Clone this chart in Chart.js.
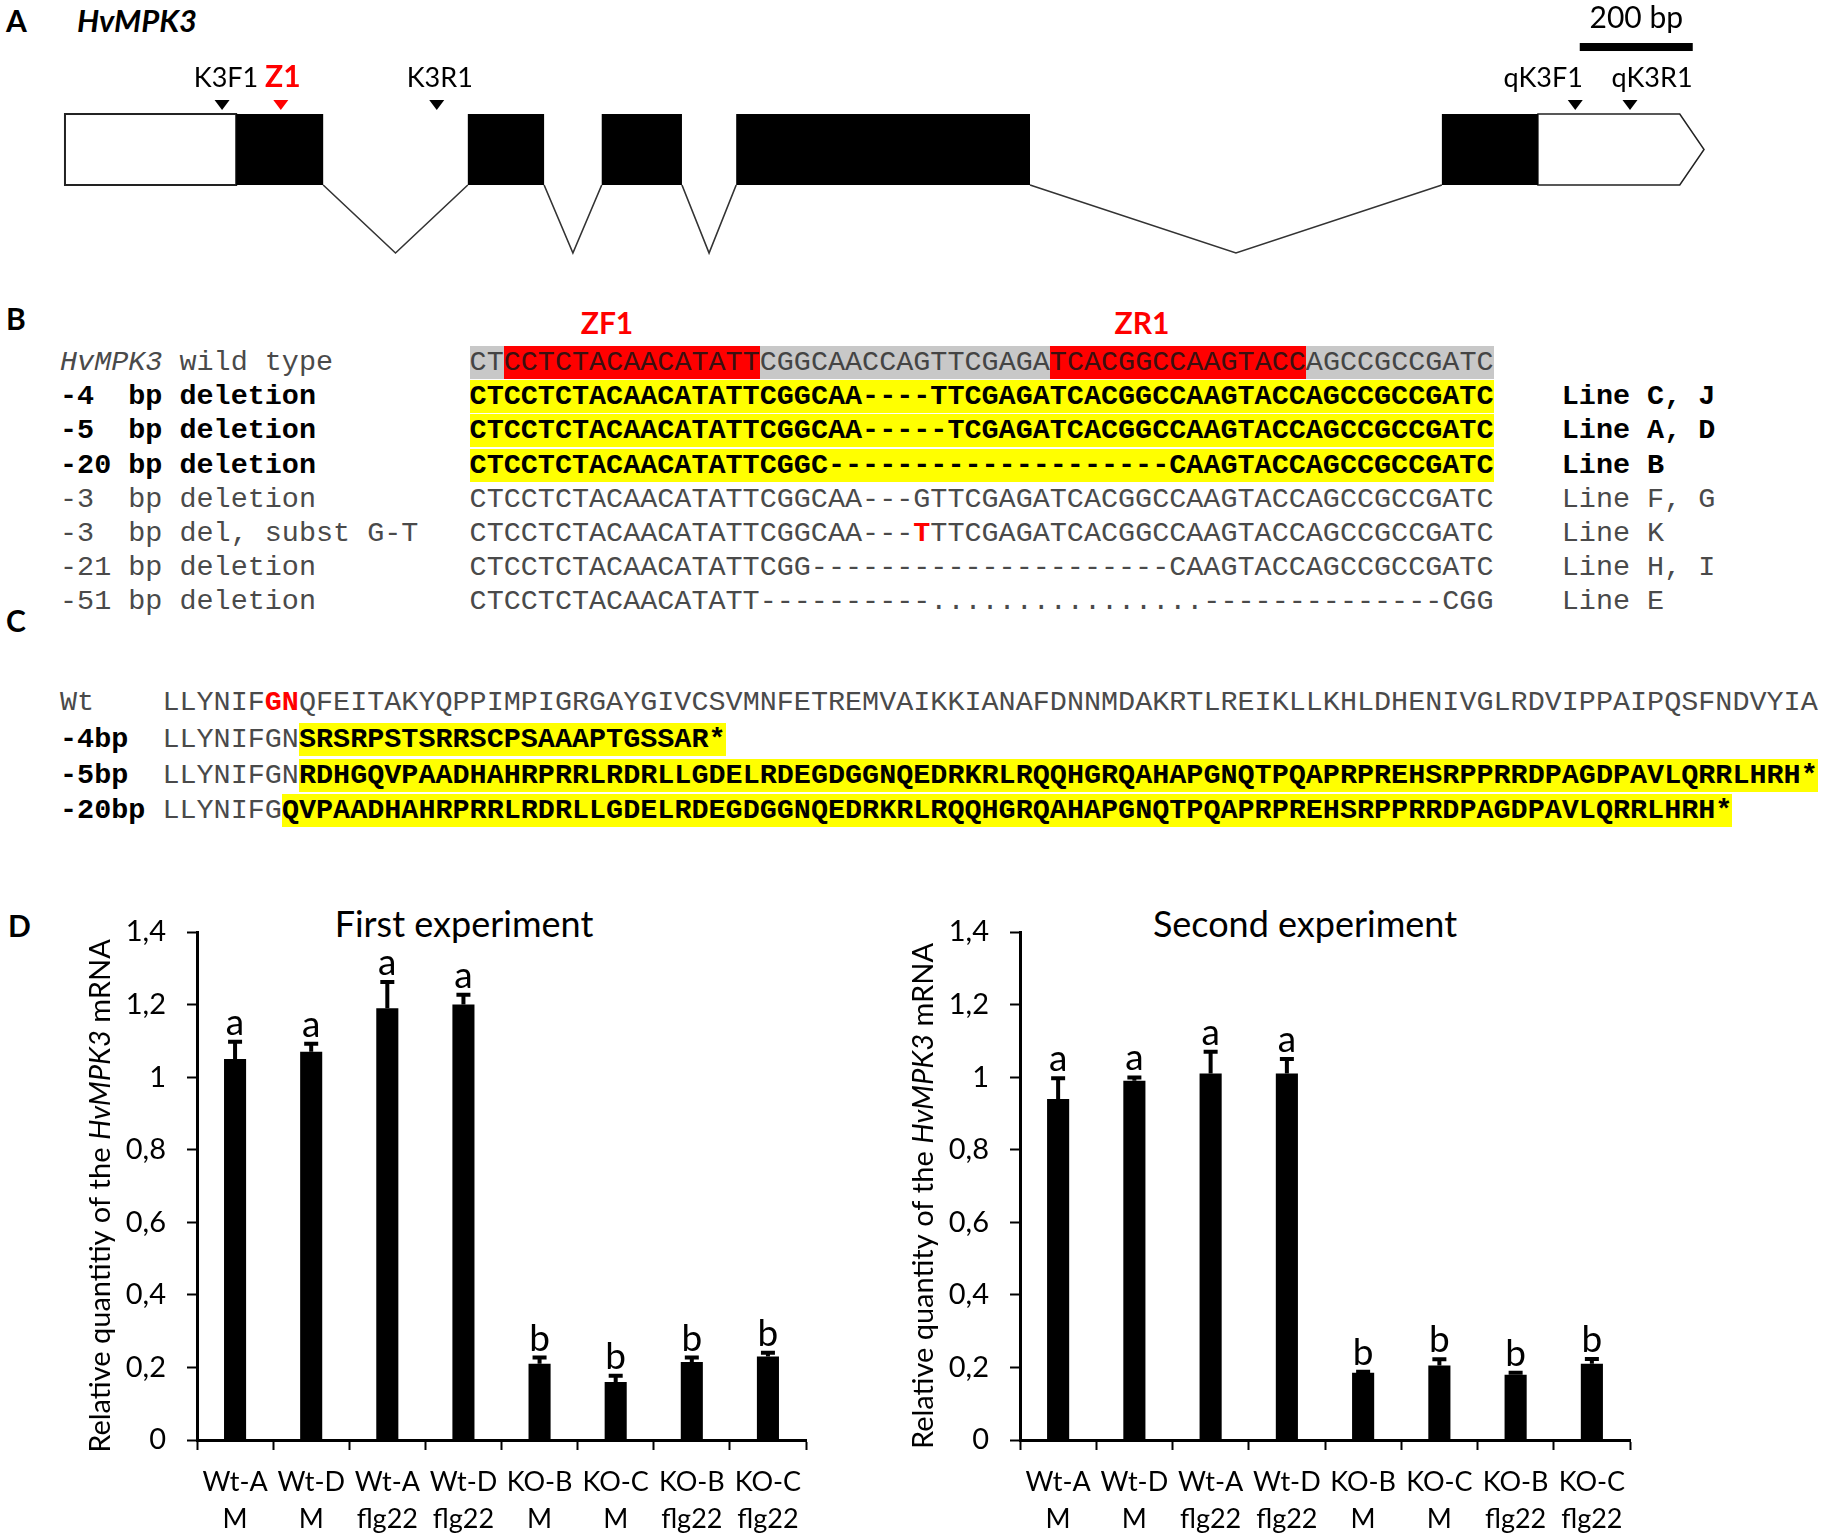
<!DOCTYPE html>
<html>
<head>
<meta charset="utf-8">
<script src="https://cdn.jsdelivr.net/npm/chart.js@4.4.0/dist/chart.umd.min.js"></script>
<style>
  html, body { margin: 0; padding: 0; background: #fff; }
  body { width: 1821px; height: 1539px; position: relative; overflow: hidden; font-family: Lato, sans-serif; }
  .t { position: absolute; white-space: pre; line-height: 1; }
  .letter { font-weight: bold; font-size: 30px; }
  .mono { position: absolute; left: 60px; white-space: pre; font-family: "Liberation Mono", monospace;
          font-size: 28.45px; line-height: 34px; height: 34px; color: #4a4a4a; }
  .mono b { color: #000; }
  .bg { display: inline-block; line-height: 33px; vertical-align: top; }
  .grey { background: #c8c8c8; color: #444; }
  .red { background: #ff0000; color: #3a1010; }
  .yel { background: #ffff00; color: #000; font-weight: bold; }
  .rt { color: #ff0000; font-weight: bold; }
  canvas { position: absolute; }
</style>
</head>
<body>

<div class="t letter" style="left:6px; top:5px;">A</div>
<div class="t" style="left:77px; top:5px; font-size:31px; font-weight:bold; font-style:italic;">HvMPK3</div>
<canvas id="gene" width="1821" height="290" style="left:0; top:0;"></canvas>

<div class="t letter" style="left:6px; top:303px;">B</div>
<div class="t" style="left:607px; top:307px; transform:translateX(-50%); color:#f00; font-weight:bold; font-size:30px;">ZF1</div>
<div class="t" style="left:1142px; top:307px; transform:translateX(-50%); color:#f00; font-weight:bold; font-size:30px;">ZR1</div>
<div id="panelB"></div>

<div class="t letter" style="left:6px; top:605px;">C</div>
<div id="panelC"></div>

<div class="t letter" style="left:8px; top:910px;">D</div>
<div class="t" style="left:464px; top:905px; transform:translateX(-50%); font-size:36px;">First experiment</div>
<div class="t" style="left:1305px; top:905px; transform:translateX(-50%); font-size:36px;">Second experiment</div>
<canvas id="first" width="830" height="659" style="left:0; top:880px;"></canvas>
<canvas id="second" width="780" height="659" style="left:880px; top:880px;"></canvas>

<script>
// ---- panel A: gene model (bp) ----
const utr5 = [0, 303];
const exonStarts = [303, 713, 950, 1188, 2437];
const exonEnds = [457, 848, 1092, 1708, 2607];
const utr3 = [2607, 2858, 2901]; // box start, box end, arrow tip
const primerNames = ['K3F1', 'Z1', 'K3R1', 'qK3F1', 'qK3R1'];
const primerSites = [278, 382, 658, 2673, 2770];
const primerLabelShift = [4, 2, 3, -32, 22];
const scaleBar = [2681, 2881];

// ---- panel B: alignment ----
const seqLabels = ['wild type', '-4  bp deletion', '-5  bp deletion', '-20 bp deletion',
  '-3  bp deletion', '-3  bp del, subst G-T', '-21 bp deletion', '-51 bp deletion'];
const seqRows = [
  'CTCCTCTACAACATATTCGGCAACCAGTTCGAGATCACGGCCAAGTACCAGCCGCCGATC',
  'CTCCTCTACAACATATTCGGCAA----TTCGAGATCACGGCCAAGTACCAGCCGCCGATC',
  'CTCCTCTACAACATATTCGGCAA-----TCGAGATCACGGCCAAGTACCAGCCGCCGATC',
  'CTCCTCTACAACATATTCGGC--------------------CAAGTACCAGCCGCCGATC',
  'CTCCTCTACAACATATTCGGCAA---GTTCGAGATCACGGCCAAGTACCAGCCGCCGATC',
  'CTCCTCTACAACATATTCGGCAA---TTTCGAGATCACGGCCAAGTACCAGCCGCCGATC',
  'CTCCTCTACAACATATTCGG---------------------CAAGTACCAGCCGCCGATC',
  'CTCCTCTACAACATATT----------................--------------CGG'
];
const seqLines = ['', 'Line C, J', 'Line A, D', 'Line B', 'Line F, G', 'Line K', 'Line H, I', 'Line E'];
const boldRows = [1, 2, 3];
const zfnSites = [[2, 17], [34, 49]];
const substPos = 26;

// ---- panel C: protein ----
const protLabels = ['Wt', '-4bp', '-5bp', '-20bp'];
const protKept = ['LLYNIFGN', 'LLYNIFGN', 'LLYNIFGN', 'LLYNIFG'];
const protRest = [
  'QFEITAKYQPPIMPIGRGAYGIVCSVMNFETREMVAIKKIANAFDNNMDAKRTLREIKLLKHLDHENIVGLRDVIPPAIPQSFNDVYIA',
  'SRSRPSTSRRSCPSAAAPTGSSAR*',
  'RDHGQVPAADHAHRPRRLRDRLLGDELRDEGDGGNQEDRKRLRQQHGRQAHAPGNQTPQAPRPREHSRPPRRDPAGDPAVLQRRLHRH*',
  'QVPAADHAHRPRRLRDRLLGDELRDEGDGGNQEDRKRLRQQHGRQAHAPGNQTPQAPRPREHSRPPRRDPAGDPAVLQRRLHRH*'
];

// ---- panel D: qPCR ----
const categories = [['Wt-A', 'M'], ['Wt-D', 'M'], ['Wt-A', 'flg22'], ['Wt-D', 'flg22'],
  ['KO-B', 'M'], ['KO-C', 'M'], ['KO-B', 'flg22'], ['KO-C', 'flg22']];
const firstMeans = [1.05, 1.07, 1.19, 1.20, 0.21, 0.16, 0.215, 0.23];
const firstErrors = [0.05, 0.025, 0.075, 0.03, 0.02, 0.02, 0.015, 0.013];
const firstLetters = ['a', 'a', 'a', 'a', 'b', 'b', 'b', 'b'];
const secondMeans = [0.94, 0.99, 1.01, 1.01, 0.185, 0.205, 0.18, 0.21];
const secondErrors = [0.06, 0.012, 0.063, 0.043, 0.006, 0.02, 0.008, 0.016];
const secondLetters = ['a', 'a', 'a', 'a', 'b', 'b', 'b', 'b'];
const yTickLabels = ['0', '0,2', '0,4', '0,6', '0,8', '1', '1,2', '1,4'];

// build panel B rows
const esc = s => s.replace(/&/g, '&amp;').replace(/</g, '&lt;');
let html = '';
seqRows.forEach((seq, i) => {
  const top = 346 + i * 34.2;
  const bold = boldRows.includes(i);
  let label;
  if (i === 0) label = '<i>HvMPK3</i> ' + seqLabels[0] + ' '.repeat(24 - 7 - seqLabels[0].length);
  else label = esc(seqLabels[i].padEnd(24));
  let s;
  if (i === 0) {
    const [a, b] = zfnSites;
    s = '<span class="bg grey">' + seq.slice(0, a[0]) +
      '<span class="red">' + seq.slice(a[0], a[1]) + '</span>' + seq.slice(a[1], b[0]) +
      '<span class="red">' + seq.slice(b[0], b[1]) + '</span>' + seq.slice(b[1]) + '</span>';
  } else if (bold) {
    s = '<span class="bg yel">' + seq + '</span>';
  } else if (i === 5) {
    s = seq.slice(0, substPos) + '<span class="rt">' + seq[substPos] + '</span>' + seq.slice(substPos + 1);
  } else {
    s = seq;
  }
  const line = '    ' + seqLines[i];
  const inner = label + s + line;
  html += '<div class="mono" style="top:' + top + 'px;">' + (bold ? '<b>' + inner + '</b>' : inner) + '</div>';
});
document.getElementById('panelB').innerHTML = html;

// build panel C rows
html = '';
protLabels.forEach((lab, i) => {
  const top = [686, 723, 759, 794][i];
  let kept = protKept[i];
  if (i === 0) kept = kept.slice(0, 6) + '<span class="rt">' + kept.slice(6) + '</span>';
  const labHtml = i === 0 ? lab.padEnd(6) : '<b>' + lab.padEnd(6) + '</b>';
  const rest = i === 0 ? protRest[i] : '<span class="bg yel">' + esc(protRest[i]) + '</span>';
  html += '<div class="mono" style="top:' + top + 'px;">' + labHtml + kept + rest + '</div>';
});
document.getElementById('panelC').innerHTML = html;

// ---- gene chart ----
const intronSets = exonEnds.slice(0, -1).map((end, i) => ({
  data: [{x: end, y: 0}, {x: (end + exonStarts[i + 1]) / 2, y: -0.958}, {x: exonStarts[i + 1], y: 0}],
  showLine: true, borderColor: '#333', borderWidth: 1.6, pointRadius: 0
}));

const genePlugin = {
  id: 'gene',
  afterDatasetsDraw(chart) {
    const {ctx, scales: {x, y}} = chart;
    const top = y.getPixelForValue(1), bot = y.getPixelForValue(0), mid = y.getPixelForValue(0.5);
    ctx.save();
    ctx.fillStyle = '#fff';
    ctx.strokeStyle = '#222';
    ctx.lineWidth = 2;
    const u0 = x.getPixelForValue(utr5[0]), u1 = x.getPixelForValue(utr5[1]);
    ctx.fillRect(u0, top, u1 - u0, bot - top);
    ctx.strokeRect(u0, top, u1 - u0, bot - top);
    const a = x.getPixelForValue(utr3[0]), b = x.getPixelForValue(utr3[1]), c = x.getPixelForValue(utr3[2]);
    ctx.beginPath();
    ctx.moveTo(a, top); ctx.lineTo(b, top); ctx.lineTo(c, mid); ctx.lineTo(b, bot); ctx.lineTo(a, bot);
    ctx.closePath();
    ctx.fill();
    ctx.lineWidth = 1.5;
    ctx.stroke();
    ctx.fillStyle = '#000';
    exonStarts.forEach((s, i) => {
      const p0 = x.getPixelForValue(s), p1 = x.getPixelForValue(exonEnds[i]);
      ctx.fillRect(p0, top, p1 - p0, bot - top);
    });
    // primers
    ctx.textAlign = 'center';
    ctx.textBaseline = 'alphabetic';
    primerSites.forEach((site, i) => {
      const px = x.getPixelForValue(site);
      const red = primerNames[i] === 'Z1';
      ctx.fillStyle = red ? '#f00' : '#000';
      ctx.beginPath();
      ctx.moveTo(px - 7.5, top - 14); ctx.lineTo(px + 7.5, top - 14); ctx.lineTo(px, top - 4);
      ctx.closePath();
      ctx.fill();
      ctx.font = red ? 'bold 30px Lato' : '27px Lato';
      ctx.fillText(primerNames[i], px + primerLabelShift[i], top - 27);
    });
    // scale bar
    const s0 = x.getPixelForValue(scaleBar[0]), s1 = x.getPixelForValue(scaleBar[1]);
    ctx.fillStyle = '#000';
    ctx.fillRect(s0, top - 71, s1 - s0, 8);
    ctx.font = '30px Lato';
    ctx.fillText((scaleBar[1] - scaleBar[0]) + ' bp', (s0 + s1) / 2, top - 86);
    ctx.restore();
  }
};

new Chart(document.getElementById('gene'), {
  type: 'scatter',
  data: {datasets: intronSets},
  options: {
    responsive: false, animation: false, devicePixelRatio: 1, events: [],
    layout: {padding: 0, autoPadding: false},
    plugins: {legend: {display: false}, tooltip: {enabled: false}},
    scales: {
      x: {type: 'linear', display: false, min: -115, max: 3108},
      y: {type: 'linear', display: false, min: -1.479, max: 2.606}
    }
  },
  plugins: [genePlugin]
});

// ---- bar charts ----
const errorPlugin = {
  id: 'errs',
  afterDatasetsDraw(chart, args, opts) {
    const {ctx, scales: {y}} = chart;
    const meta = chart.getDatasetMeta(0);
    ctx.save();
    ctx.strokeStyle = '#000';
    ctx.fillStyle = '#000';
    ctx.lineWidth = 4;
    ctx.font = '37px Lato';
    ctx.textAlign = 'center';
    ctx.textBaseline = 'alphabetic';
    meta.data.forEach((bar, i) => {
      const yt = y.getPixelForValue(opts.means[i] + opts.errors[i]);
      ctx.beginPath();
      ctx.moveTo(bar.x, bar.y);
      ctx.lineTo(bar.x, yt);
      ctx.moveTo(bar.x - 7, yt + 1);
      ctx.lineTo(bar.x + 7, yt + 1);
      ctx.stroke();
      ctx.fillText(opts.letters[i], bar.x, yt - 6);
    });
    ctx.restore();
  }
};

const yTitlePlugin = {
  id: 'ytitle',
  afterDraw(chart, args, opts) {
    const {ctx, chartArea} = chart;
    ctx.save();
    ctx.translate(chartArea.left - 96, (chartArea.top + chartArea.bottom) / 2 + 10);
    ctx.rotate(-Math.PI / 2);
    ctx.fillStyle = '#000';
    ctx.textBaseline = 'middle';
    ctx.textAlign = 'left';
    let total = 0;
    opts.parts.forEach(p => { ctx.font = p[1]; total += ctx.measureText(p[0]).width; });
    let xx = -total / 2;
    opts.parts.forEach(p => { ctx.font = p[1]; ctx.fillText(p[0], xx, 0); xx += ctx.measureText(p[0]).width; });
    ctx.restore();
  }
};

function makeBars(id, means, errors, letters, quantity, yWidth, rightPad) {
  return new Chart(document.getElementById(id), {
    type: 'bar',
    data: {
      labels: categories,
      datasets: [{data: means, backgroundColor: '#000', barPercentage: 0.29, categoryPercentage: 1}]
    },
    options: {
      responsive: false, animation: false, devicePixelRatio: 1, events: [],
      layout: {padding: {top: 52, right: rightPad, bottom: 0, left: 0}},
      plugins: {
        legend: {display: false}, tooltip: {enabled: false},
        errs: {means: means, errors: errors, letters: letters},
        ytitle: {parts: [['Relative ' + quantity + ' of the ', '29px Lato'], ['HvMPK3', 'italic 29px Lato'], [' mRNA', '29px Lato']]}
      },
      scales: {
        x: {
          grid: {offset: true, drawOnChartArea: false, drawTicks: true, tickLength: 10, tickColor: '#000', tickWidth: 2},
          border: {color: '#000', width: 3},
          ticks: {color: '#000', font: {family: 'Lato', size: 27, lineHeight: 1.4}, padding: 13, maxRotation: 0, autoSkip: false},
          afterFit(scale) { scale.height = 99; }
        },
        y: {
          min: 0, max: 1.4,
          grid: {drawOnChartArea: false, drawTicks: true, tickLength: 10, tickColor: '#000', tickWidth: 2},
          border: {color: '#000', width: 3},
          ticks: {stepSize: 0.2, color: '#000', font: {family: 'Lato', size: 29}, padding: 21,
            callback: v => yTickLabels[Math.round(v / 0.2)]},
          afterFit(scale) { scale.width = yWidth; }
        }
      }
    },
    plugins: [errorPlugin, yTitlePlugin]
  });
}

makeBars('first', firstMeans, firstErrors, firstLetters, 'quantitiy', 197, 24);
makeBars('second', secondMeans, secondErrors, secondLetters, 'quantity', 140, 30);
</script>
</body>
</html>
